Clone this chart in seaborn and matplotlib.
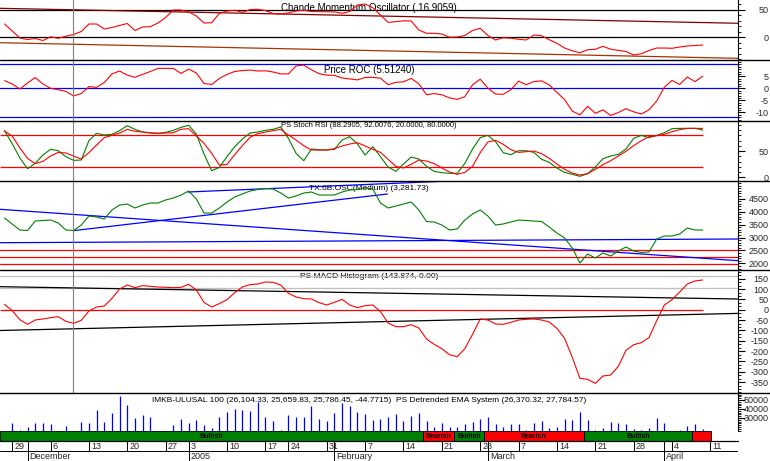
import matplotlib
matplotlib.use("Agg")
import matplotlib.pyplot as plt
from matplotlib.lines import Line2D
from matplotlib.ticker import MultipleLocator, FixedLocator
import numpy as np
import pandas as pd
import seaborn as sns

# trading day index 0..91 (26 Nov 2004 .. 8 Apr 2005)
week_ticks = [1, 6, 11, 16, 21, 24, 29, 34, 37, 42, 47, 52, 57, 62, 67, 72, 77, 82, 87, 92]
week_labels = ["29", "6", "13", "20", "27", "3", "10", "17", "24", "31",
               "7", "14", "21", "28", "7", "14", "21", "28", "4", "11"]
month_ticks = [3, 24, 43, 63, 86]
month_labels = ["December", "2005", "February", "March", "April"]

cmo = [24.2, 11.5, -1.3, -4.0, -2.2, -5.8, 0.9, -1.8, 2.0, 5.1,
       10.5, 24.2, 24.2, 15.1, 17.8, 21.5, 25.1, 12.4, 18.7, 19.3,
       26.0, 36.0, 49.6, 49.6, 46.2, 38.7, 26.0, 26.5, 43.3, 47.8,
       49.1, 45.3, 50.4, 50.9, 48.7, 43.3, 42.4, 44.4, 47.8, 49.3,
       46.9, 46.5, 46.5, 46.2, 43.6, 46.9, 58.7, 60.5, 53.8, 40.5,
       27.1, 28.4, 30.0, 29.6, 13.3, 7.3, 7.3, 6.0, 0.2, 0.5,
       3.3, 12.4, 16.4, 3.3, -4.9, -0.9, -1.6, -3.6, -4.9, 4.2,
       2.9, -4.4, -10.9, -19.5, -24.5, -28.0, -22.7, -21.8, -16.4, -21.6,
       -23.8, -25.8, -32.2, -29.8, -24.0, -19.5, -19.5, -20.0, -17.6, -15.8,
       -14.9, -14.0]
cmo_upper = [52.7, 25.5]
cmo_lower = [-9.8, -38.2]

roc = [3.2, 1.8, -0.3, 2.2, 4.5, 1.8, 0.0, -0.6, -1.3, -3.2,
       -2.2, 0.7, 0.4, 2.4, 6.0, 7.2, 5.5, 4.6, 5.8, 7.0,
       8.3, 8.3, 8.3, 6.2, 8.0, 6.4, 2.0, 1.6, 4.1, 5.8,
       7.0, 7.4, 7.6, 7.2, 7.3, 6.8, 6.0, 6.0, 9.3, 9.7,
       7.7, 6.1, 5.5, 5.4, 4.3, 3.9, 3.5, 4.5, 4.6, 4.2,
       1.5, 2.5, 2.7, 4.1, 1.9, -2.7, -2.2, -2.7, -4.0, -4.6,
       -3.5, 1.5, 3.8, 0.1, -2.4, -2.5, -0.6, 3.0, 1.5, 2.8,
       3.1, 1.4, -1.7, -4.7, -9.5, -11.1, -7.5, -10.4, -9.0, -11.3,
       -10.1, -8.5, -9.8, -10.7, -9.0, -5.3, 0.5, 3.3, 1.6, 4.7,
       2.8, 5.0]
roc_levels = [10, 0, -12.1]

srsi_k = [89.0, 64.1, 36.7, 16.3, 26.5, 42.4, 53.3, 50.7, 39.3, 32.2,
          32.9, 69.9, 83.9, 80.7, 82.0, 89.0, 98.5, 91.5, 86.4, 84.5,
          83.9, 85.8, 89.6, 95.3, 99.2, 82.6, 44.4, 12.5, 18.9, 39.3,
          58.4, 73.0, 84.5, 86.4, 89.6, 91.5, 96.0, 74.3, 45.6, 31.6,
          53.9, 52.6, 52.0, 53.3, 71.1, 77.5, 63.5, 42.4, 58.4, 39.3,
          19.5, 11.2, 25.2, 38.6, 34.8, 20.8, 11.2, 8.7, 7.4, 7.4,
          26.5, 53.9, 75.6, 80.0, 67.9, 46.9, 43.1, 50.7, 50.7, 47.5,
          34.2, 28.4, 17.6, 9.3, 5.5, 1.7, 6.8, 19.5, 35.4, 40.5,
          43.7, 53.9, 74.3, 80.0, 75.6, 80.0, 85.1, 92.8, 93.4, 93.4,
          93.4, 90.2]
srsi_d = [88.3, 78.8, 55.8, 36.1, 25.9, 30.3, 40.5, 47.5, 46.3, 40.5,
          34.8, 46.9, 61.6, 75.6, 80.0, 84.5, 91.5, 87.7, 86.4, 85.1,
          83.9, 84.5, 85.1, 91.5, 92.8, 78.8, 64.8, 45.6, 23.3, 24.6,
          43.1, 60.3, 76.2, 83.2, 86.4, 89.0, 91.5, 80.7, 71.1, 60.3,
          52.0, 52.0, 52.0, 54.6, 59.7, 63.5, 66.0, 59.7, 53.3, 47.5,
          34.2, 20.8, 17.6, 24.6, 32.9, 31.0, 25.9, 17.6, 9.9, 5.5,
          9.3, 20.8, 46.9, 67.3, 70.5, 62.8, 52.6, 47.5, 48.8, 50.1,
          45.0, 36.1, 25.2, 15.0, 8.0, 4.2, 6.8, 15.0, 24.0, 31.6,
          40.5, 49.5, 60.3, 69.9, 77.5, 79.4, 82.0, 87.1, 90.9, 93.4,
          93.4, 93.4]
srsi_levels = [80, 20]

tx_osc = [3751, 3520, 3289, 3270, 3635, 3655, 3674, 3558, 3289, 3270,
          3481, 3828, 3789, 3712, 4059, 4251, 4290, 4136, 4251, 4328,
          4328, 4444, 4520, 4636, 4790, 4482, 3943, 3943, 4136, 4367,
          4559, 4675, 4790, 4848, 4886, 4867, 4713, 4520, 4598, 4713,
          4752, 4636, 4636, 4636, 4752, 4829, 4848, 4906, 4867, 4328,
          4136, 4213, 4290, 4367, 4059, 3616, 3597, 3481, 3289, 3327,
          3674, 3905, 4059, 3828, 3481, 3520, 3597, 3674, 3655, 3635,
          3616, 3404, 3173, 2981, 2596, 2019, 2365, 2211, 2404, 2288,
          2480, 2634, 2480, 2423, 2442, 2942, 3058, 3058, 3135, 3366,
          3289, 3289]
tx_levels = [2519, 2261, 1980]
# trend lines: (start idx, end idx, start value, end value)
tx_trends = [(-0.59, 95.6, 4086, 2107),
             (-0.59, 95.6, 2800, 2942),
             (8.93, 49.9, 3262, 4675),
             (23.9, 56.4, 4752, 5156)]

macd = [26.5, -4.2, -47.7, -70.3, -49.4, -44.5, -38.1, -33.2, -55.8, -65.5,
        -51.0, -5.8, 13.5, 18.4, 55.5, 100.6, 120.0, 107.1, 116.8, 113.5,
        110.3, 108.7, 107.1, 108.7, 123.2, 95.8, 36.1, 13.5, 29.7, 49.0,
        82.9, 110.3, 121.6, 124.8, 134.5, 132.9, 120.0, 79.7, 61.9, 53.9,
        52.3, 34.5, 23.2, 36.1, 50.6, 23.2, 10.3, 20.0, 23.2, -9.0,
        -63.9, -81.6, -81.6, -71.9, -88.1, -141.3, -167.1, -188.1, -217.1, -226.8,
        -188.1, -118.7, -44.5, -49.4, -68.7, -70.3, -60.6, -49.4, -46.1, -44.5,
        -49.4, -59.0, -89.7, -138.1, -230.0, -331.6, -336.5, -355.8, -320.3, -315.5,
        -273.5, -196.1, -168.7, -159.0, -134.8, -52.6, 23.2, 49.0, 86.1, 124.8,
        139.4, 144.2]
macd_grey = [165, 104]
macd_upper = [111.8, 52.2]
macd_lower = [-100.1, -17.4]

volume = [0, 24400, 17000, 20000, 24400, 24400, 23000, 0, 21100, 0,
          25600, 24400, 38900, 25600, 35600, 54400, 44400, 30000, 33300, 31100,
          0, 0, 22200, 28900, 24400, 27800, 22200, 18900, 31100, 36700,
          40000, 38900, 37800, 47800, 31100, 26700, 16700, 33300, 31100, 31100,
          43300, 28900, 26700, 35600, 46700, 43300, 36700, 34400, 27800, 28900,
          31100, 34400, 26700, 32200, 35600, 26700, 20000, 24400, 20000, 20000,
          23300, 25600, 28900, 31100, 23300, 20000, 23300, 23300, 16700, 24400,
          26700, 18900, 20000, 28900, 27800, 36700, 27800, 16700, 18900, 25600,
          24400, 23300, 17800, 16700, 18900, 30000, 24400, 0, 16700, 21100,
          23300, 17800]

signal_bounds = [-0.59, 54.5, 58.6, 62.5, 75.5, 89.6, 92.1]
signal_state = ["Bullish", "Bearish", "Bullish", "Bearish", "Bullish", "Bearish"]
cursor_idx = 8.93

days = np.arange(len(cmo))

W, H = 770, 461
X_LO, X_HI = -0.59, 95.6
AXIS_PX = 738
RED, GREEN, BLUE = "#ff0000", "#008000", "#0000ff"

sns.set_theme(style="white")
plt.rcParams["font.family"] = ["Liberation Sans", "DejaVu Sans"]
plt.rcParams["axes.unicode_minus"] = False

fig = plt.figure(figsize=(W / 100, H / 100), dpi=100)
fig.patch.set_facecolor("white")


def panel(top, bottom, ylim, majors, minor_step, fontsize=6.5):
    ax = fig.add_axes([0, 1 - bottom / H, AXIS_PX / W, (bottom - top) / H])
    ax.set_facecolor("white")
    for s in ("left", "top", "bottom"):
        ax.spines[s].set_visible(False)
    ax.spines["right"].set_color("black")
    ax.spines["right"].set_linewidth(0.8)
    ax.set_xticks([])
    ax.yaxis.tick_right()
    ax.yaxis.set_major_locator(FixedLocator(majors))
    ax.yaxis.set_minor_locator(MultipleLocator(minor_step))
    ax.tick_params(axis="y", which="major", direction="out", length=5, width=0.8,
                   color="black", labelsize=fontsize, pad=17, right=True)
    ax.tick_params(axis="y", which="minor", direction="out", length=2.5, width=0.6,
                   color="black", right=True)
    ax.set_ylim(*ylim)
    ax.set_xlim(X_LO, X_HI)
    for t in ax.yaxis.get_major_ticks():
        t.label2.set_horizontalalignment("right")
    return ax


def line(ax, y, color, x=None, lw=0.8, z=3):
    x = days[:len(y)] if x is None else x
    sns.lineplot(x=x, y=y, ax=ax, color=color, linewidth=lw, estimator=None, zorder=z)
    ax.set_xlabel("")
    ax.set_ylabel("")


def title(ax, text, off_px, height_px, size):
    ax.text(0.5, 1 - off_px / height_px, text, transform=ax.transAxes, ha="center",
            va="center", fontsize=size, color="black", zorder=1)


# panel 1: Chande Momentum Oscillator
ax1 = panel(0, 60.3, (-41.8, 67.8), [0, 50], 10)
for lv in (50, 0):
    ax1.axhline(lv, color="black", lw=0.9, zorder=2)
line(ax1, cmo_upper, "#800000", x=[X_LO, X_HI], lw=0.9)
line(ax1, cmo_lower, "#a83200", x=[X_LO, X_HI], lw=0.9)
line(ax1, cmo, RED)
title(ax1, "Chande Momentum Oscillator ( 16.9059)", 8, 60.3, 7)

# panel 2: Price ROC
ax2 = panel(60.3, 121.3, (-13.75, 11.67), [-10, -5, 0, 5], 1)
for lv in roc_levels:
    ax2.axhline(lv, color=BLUE, lw=0.9, zorder=2)
line(ax2, roc, RED)
title(ax2, "Price ROC (5.51240)", 9.7, 61, 7)

# panel 3: PS Stoch RSI
ax3 = panel(121.3, 181.3, (-7.8, 106.9), [0, 50], 10)
for lv in srsi_levels:
    ax3.hlines(lv, X_LO, days[-1], color=RED, lw=0.9, zorder=2)
line(ax3, srsi_k, GREEN)
line(ax3, srsi_d, RED)
title(ax3, "PS Stoch RSI (88.2905, 92.0076, 20.0000, 80.0000)", 4.7, 60, 5.5)

# panel 4: TX.6B.OSC
ax4 = panel(181.3, 270, (1749, 5164), [2000, 2500, 3000, 3500, 4000, 4500], 100)
for lv in tx_levels:
    ax4.axhline(lv, color=RED, lw=0.9, zorder=2)
for x0, x1, v0, v1 in tx_trends:
    line(ax4, [v0, v1], BLUE, x=[x0, x1], lw=0.9, z=2)
line(ax4, tx_osc, GREEN)
title(ax4, "TX.6B.OSC(Medium) (3,281.73)", 7.2, 88.7, 6)

# panel 5: PS MACD Histogram
ax5 = panel(270, 392.7, (-401, 192.5), list(range(-350, 151, 50)), 50 / 3)
for lv in macd_grey:
    ax5.axhline(lv, color="#c0c0c0", lw=0.9, zorder=2)
line(ax5, macd_upper, "black", x=[X_LO, X_HI], lw=0.9, z=2)
line(ax5, macd_lower, "black", x=[X_LO, X_HI], lw=0.9, z=2)
ax5.hlines(0, X_LO, days[-1], color=RED, lw=0.9, zorder=2)
line(ax5, macd, RED)
title(ax5, "PS MACD Histogram (143.874, 0.00)", 7, 122.7, 6)

for ax in (ax1, ax2, ax3, ax4, ax5):
    ax.axvline(cursor_idx, color="#808080", lw=0.8, zorder=4)

# panel 6: volume
ax6 = panel(392.7, 431, (15556, 58100), [30000, 40000, 50000], 2000)
ax6.vlines(days, 0, volume, color=BLUE, lw=0.9)
title(ax6, "IMKB-ULUSAL 100 (26,104.33, 25,659.83, 25,786.45, -44.7715)  "
      "PS Detrended EMA System (26,370.32, 27,784.57)", 7.3, 38.3, 6)

# signal bar
axs = fig.add_axes([0, 1 - 441 / H, AXIS_PX / W, 10 / H])
axs.set_xlim(X_LO, X_HI)
axs.set_ylim(0, 1)
axs.axis("off")
for i, state in enumerate(signal_state):
    x0, x1 = signal_bounds[i], signal_bounds[i + 1]
    col = GREEN if state == "Bullish" else RED
    axs.axvspan(x0, x1, 0, 1, facecolor=col, edgecolor="black", lw=0.6)
    if x1 - x0 > 3:
        axs.text((x0 + x1) / 2, 0.45, state, ha="center", va="center",
                 fontsize=5, fontweight="bold", color="black")

# date axis
axd = fig.add_axes([0, 0, AXIS_PX / W, 20 / H])
axd.set_xlim(X_LO, X_HI)
axd.set_ylim(0, 1)
axd.axis("off")
axd.axhline(1, color="black", lw=0.9, clip_on=False)
axd.axhline(0.5, color="black", lw=0.7)
axd.vlines(week_ticks, 0.5, 1, color="black", lw=0.7)
axd.vlines(month_ticks, 0, 1, color="black", lw=0.7)
for t, lab in zip(week_ticks, week_labels):
    axd.text(t + 0.25, 0.74, lab, ha="left", va="center", fontsize=6.5)
for t, lab in zip(month_ticks, month_labels):
    axd.text(t + 0.25, 0.24, lab, ha="left", va="center", fontsize=6.5)

# panel separators across the full width
for ypx in (60.3, 121.3, 181.3, 270, 392.7):
    fig.add_artist(Line2D([0, 1], [1 - ypx / H] * 2, color="black", lw=1,
                          transform=fig.transFigure))

fig.savefig("out.png", dpi=100, facecolor="white")
